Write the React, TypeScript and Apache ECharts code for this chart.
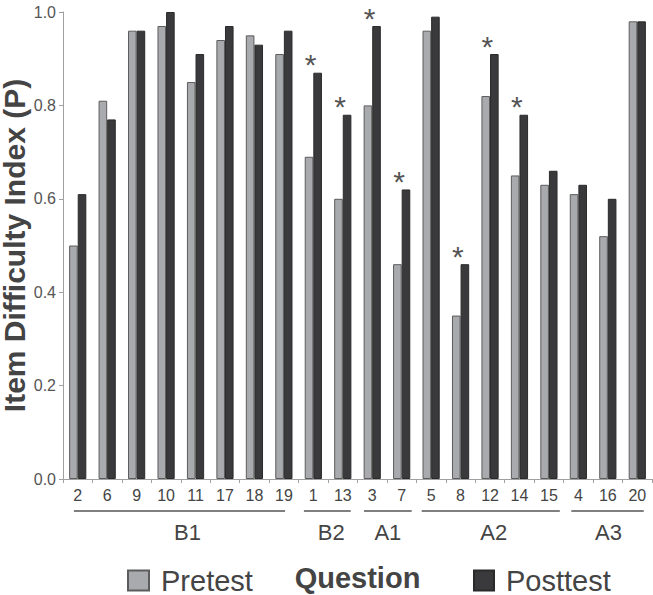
import React, { useEffect, useRef } from "react";
import * as echarts from "echarts";

const questions = ["2", "6", "9", "10", "11", "17", "18", "19", "1", "13", "3", "7", "5", "8", "12", "14", "15", "4", "16", "20"];
const pretest = [0.5, 0.81, 0.96, 0.97, 0.85, 0.94, 0.95, 0.91, 0.69, 0.6, 0.8, 0.46, 0.96, 0.35, 0.82, 0.65, 0.63, 0.61, 0.52, 0.98];
const posttest = [0.61, 0.77, 0.96, 1.0, 0.91, 0.97, 0.93, 0.96, 0.87, 0.78, 0.97, 0.62, 0.99, 0.46, 0.91, 0.78, 0.66, 0.63, 0.6, 0.98];
const significant = [false, false, false, false, false, false, false, false, true, true, true, true, false, true, true, true, false, false, false, false];
const groupNames = ["B1", "B2", "A1", "A2", "A3"];
const groupStart = [0, 8, 10, 12, 17];
const groupEnd = [7, 9, 11, 16, 19];
const yTicks = [0, 0.2, 0.4, 0.6, 0.8, 1.0];

// layout (in fractions of a category band)
const groupPadLeft = [0.13, 0.32, 0.28, 0.32, 0.24];
const groupPadRight = [0.04, 0.27, 0.34, 0.37, 0.22];
const groupLabelShift = [8, 4, 0, 3, 1];

const FONT = "'Liberation Sans', Arial, Helvetica, sans-serif";
const PRE_COLOR = "#a9aaae";
const POST_COLOR = "#3a3a3c";

export default function App() {
  const ref = useRef<HTMLDivElement>(null);
  useEffect(() => {
    if (!ref.current) return;
    const chart = echarts.init(ref.current, undefined, { renderer: "svg" });
    chart.setOption({
      animation: false,
      grid: { left: 63, right: 1, top: 12, bottom: 116, containLabel: false, outerBoundsMode: "none" },
      legend: [
        {
          data: ["Pretest"],
          left: 122,
          top: 561,
          itemWidth: 21,
          itemHeight: 20,
          icon: "rect",
          textStyle: { fontFamily: FONT, fontSize: 29, color: "#444", padding: [0, 0, 0, 7] },
        },
        {
          data: ["Posttest"],
          left: 468,
          top: 561,
          itemWidth: 20,
          itemHeight: 20,
          icon: "rect",
          textStyle: { fontFamily: FONT, fontSize: 29, color: "#444", padding: [0, 0, 0, 7] },
        },
      ],
      xAxis: {
        type: "category",
        data: questions,
        name: "Question",
        nameLocation: "middle",
        nameGap: 84,
        nameMoveOverlap: false,
        nameTextStyle: { fontFamily: FONT, fontSize: 29, fontWeight: "bold", color: "#444" },
        axisLine: { lineStyle: { color: "#a0a0a0", width: 1 } },
        axisTick: { show: true, length: 4, interval: 0, lineStyle: { color: "#a0a0a0" } },
        axisLabel: { interval: 0, margin: 8, fontFamily: FONT, fontSize: 16, color: "#444" },
      },
      yAxis: {
        type: "value",
        min: 0,
        max: 1,
        interval: 0.2,
        name: "Item Difficulty Index (P)",
        nameLocation: "middle",
        nameGap: 36,
        nameMoveOverlap: false,
        nameTextStyle: { fontFamily: FONT, fontSize: 30, lineHeight: 26, fontWeight: "bold", color: "#444" },
        splitLine: { show: false },
        axisLine: { show: true, lineStyle: { color: "#a0a0a0", width: 1 } },
        axisTick: { show: true, length: 4, lineStyle: { color: "#a0a0a0" } },
        axisLabel: {
          margin: 7,
          fontFamily: FONT,
          fontSize: 16,
          color: "#555",
          formatter: (v: number) => (yTicks.some((t) => Math.abs(t - v) < 1e-9) ? v.toFixed(1) : ""),
        },
      },
      series: [
        {
          name: "Pretest",
          type: "bar",
          data: pretest,
          barWidth: 8.6,
          barGap: "0%",
          itemStyle: { color: PRE_COLOR, borderColor: "#5c5c5c", borderWidth: 1 },
        },
        {
          name: "Posttest",
          type: "bar",
          data: posttest,
          barWidth: 8.6,
          barGap: "0%",
          itemStyle: { color: POST_COLOR, borderColor: "#2a2a2a", borderWidth: 1 },
          label: {
            show: true,
            position: "top",
            distance: 0,
            offset: [-7, 0],
            fontFamily: FONT,
            fontSize: 30,
            lineHeight: 16,
            color: "#555",
            formatter: (p: any) => (significant[p.dataIndex] ? "*" : ""),
          },
        },
      ],
    });

    const graphics: any[] = [];
    const band = (chart.convertToPixel({ xAxisIndex: 0 }, 1) as number) - (chart.convertToPixel({ xAxisIndex: 0 }, 0) as number);
    const lineY = 511;
    groupNames.forEach((g, i) => {
      const x0 = (chart.convertToPixel({ xAxisIndex: 0 }, groupStart[i]) as number) - groupPadLeft[i] * band;
      const x1 = (chart.convertToPixel({ xAxisIndex: 0 }, groupEnd[i]) as number) + groupPadRight[i] * band;
      graphics.push({
        type: "line",
        shape: { x1: x0, y1: lineY, x2: x1, y2: lineY },
        style: { stroke: "#555", lineWidth: 1.6 },
        silent: true,
      });
      graphics.push({
        type: "text",
        x: (x0 + x1) / 2 + groupLabelShift[i],
        y: 532,
        style: {
          text: g,
          fontFamily: FONT,
          fontSize: 22,
          fill: "#444",
          align: "center",
          verticalAlign: "middle",
        },
        silent: true,
      });
    });
    chart.setOption({ graphic: graphics });

    return () => chart.dispose();
  }, []);
  return (
    <div
      ref={ref}
      style={{ position: "absolute", left: 0, top: 0, width: 653, height: 595, background: "#fff" }}
    />
  );
}
